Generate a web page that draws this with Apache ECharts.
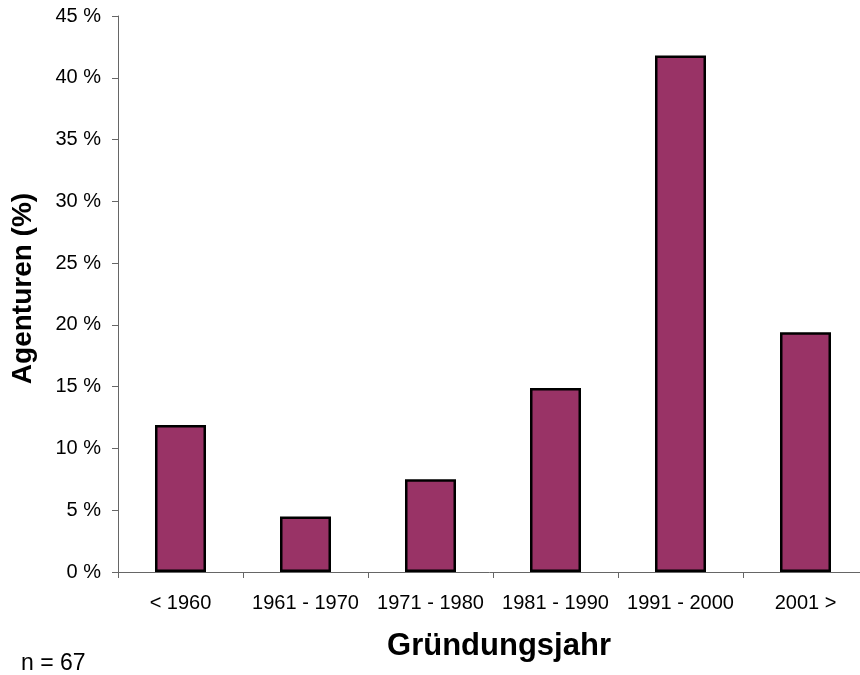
<!DOCTYPE html>
<html>
<head>
<meta charset="utf-8">
<script src="https://cdn.jsdelivr.net/npm/echarts@6/dist/echarts.min.js"></script>
<style>
  html, body { margin: 0; padding: 0; background: #fff; }
  #chart { width: 860px; height: 675px; }
</style>
</head>
<body>
<div id="chart"></div>
<script>
// founding year categories and share of agencies (%), n = 67
const categories = ["< 1960", "1961 - 1970", "1971 - 1980", "1981 - 1990", "1991 - 2000", "2001 >"];
const shares = [11.9, 4.5, 7.5, 14.9, 41.8, 19.4];
const yTicks = { min: 0, max: 45, interval: 5 };

const FONT = "Liberation Sans, Arial, sans-serif";

const chart = echarts.init(document.getElementById("chart"));

chart.setOption({
  animation: false,
  backgroundColor: "#fff",
  grid: {
    left: 118,
    width: 750,
    top: 16,
    bottom: 103,
    outerBoundsMode: "none",
    containLabel: false,
  },
  xAxis: {
    type: "category",
    data: categories,
    name: "Gründungsjahr",
    nameLocation: "middle",
    nameGap: 59,
    nameTextStyle: {
      fontFamily: FONT,
      fontSize: 31,
      fontWeight: "bold",
      color: "#000",
      padding: [0, 0, 0, 12],
    },
    axisLine: { lineStyle: { color: "#666", width: 1 } },
    axisTick: { show: true, length: 6, inside: false, lineStyle: { color: "#666" } },
    axisLabel: {
      interval: 0,
      hideOverlap: false,
      margin: 21,
      fontFamily: FONT,
      fontSize: 20,
      color: "#000",
    },
  },
  yAxis: {
    type: "value",
    min: yTicks.min,
    max: yTicks.max,
    interval: yTicks.interval,
    name: "Agenturen (%)",
    nameLocation: "middle",
    nameGap: 81,
    nameTextStyle: {
      fontFamily: FONT,
      fontSize: 28,
      fontWeight: "bold",
      color: "#000",
      padding: [0, 0, 0, 11],
    },
    splitLine: { show: false },
    axisLine: { show: true, lineStyle: { color: "#666", width: 1 } },
    axisTick: { show: true, length: 6, lineStyle: { color: "#666" } },
    axisLabel: {
      margin: 17,
      fontFamily: FONT,
      fontSize: 20,
      color: "#000",
      formatter: (v) => v + " %",
    },
  },
  series: [
    {
      type: "bar",
      data: shares,
      barWidth: 51,
      itemStyle: {
        color: "#993366",
        borderColor: "#000",
        borderWidth: 2.5,
      },
    },
  ],
  graphic: [
    {
      type: "text",
      left: 21,
      top: 652,
      style: {
        text: "n = 67",
        font: "23px " + FONT,
        fill: "#000",
      },
    },
  ],
});
</script>
</body>
</html>
